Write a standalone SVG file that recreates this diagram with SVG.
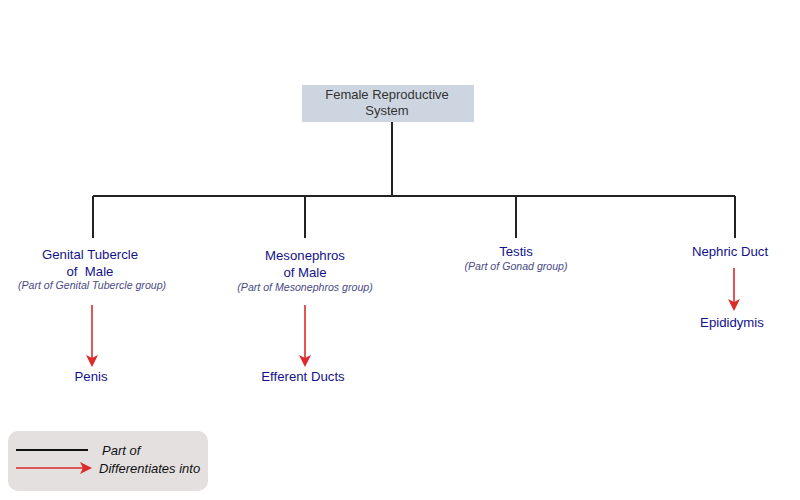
<svg xmlns="http://www.w3.org/2000/svg" width="800" height="500" viewBox="0 0 800 500">
<style>
.n{font-family:"Liberation Sans",Arial,sans-serif;font-size:13.2px;fill:#12128a;text-anchor:middle}
.g{font-family:"Liberation Sans",Arial,sans-serif;font-size:10.6px;font-style:italic;fill:#4a4a86;text-anchor:middle}
.t{font-family:"Liberation Sans",Arial,sans-serif;font-size:13px;fill:#333;text-anchor:middle}
.l{font-family:"Liberation Sans",Arial,sans-serif;font-size:13px;font-style:italic;fill:#111}
.p{stroke:#222;stroke-width:2;fill:none}
.d{stroke:#dd2a2a;stroke-width:1.6;fill:none;marker-end:url(#ah)}
</style>
<defs>
<marker id="ah" markerWidth="12" markerHeight="16" viewBox="0 0 12 16" refX="10" refY="8" orient="auto" markerUnits="userSpaceOnUse">
<path d="M0,2 L12,8 L0,14 L3,8 Z" fill="#dd2a2a"/>
</marker>
</defs>
<rect width="800" height="500" fill="#fff"/>
<g id="connectors">
<path class="p" d="M392,122 V196 M93,196 H735 M93,196 V238 M305,196 V238 M516,196 V238 M735,196 V238"/>
<line class="d" x1="92" y1="305" x2="92" y2="365"/>
<line class="d" x1="305" y1="305" x2="305" y2="365"/>
<line class="d" x1="734" y1="268" x2="734" y2="309"/>
</g>
<g id="root">
<rect x="302" y="85" width="172" height="37" fill="#cdd6e0"/>
<text class="t" x="387" y="99">Female Reproductive</text>
<text class="t" x="387" y="115">System</text>
</g>
<g id="genital">
<text class="n" x="90" y="259">Genital Tubercle</text>
<text class="n" x="90" y="276" style="white-space:pre">of  Male</text>
<text class="g" x="92" y="289">(Part of Genital Tubercle group)</text>
</g>
<g id="penis"><text class="n" x="91" y="381">Penis</text></g>
<g id="mesonephros">
<text class="n" x="305" y="260">Mesonephros</text>
<text class="n" x="305" y="277">of Male</text>
<text class="g" x="305" y="291">(Part of Mesonephros group)</text>
</g>
<g id="efferent"><text class="n" x="303" y="381">Efferent Ducts</text></g>
<g id="testis">
<text class="n" x="516" y="256">Testis</text>
<text class="g" x="516" y="270">(Part of Gonad group)</text>
</g>
<g id="nephric"><text class="n" x="730" y="256">Nephric Duct</text></g>
<g id="epididymis"><text class="n" x="732" y="327">Epididymis</text></g>
<g id="legend">
<rect x="8" y="431" width="200" height="60" rx="10" fill="#e3e0df"/>
<line x1="16" y1="450" x2="88" y2="450" stroke="#111" stroke-width="2"/>
<text class="l" x="102" y="455">Part of</text>
<line class="d" x1="16" y1="468" x2="90" y2="468"/>
<text class="l" x="99" y="473">Differentiates into</text>
</g>
</svg>
